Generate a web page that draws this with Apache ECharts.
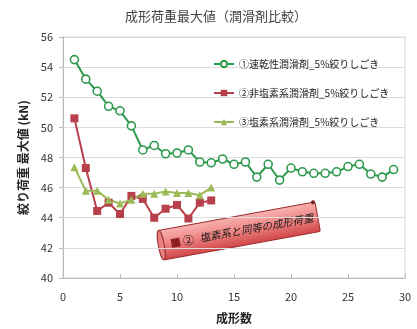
<!DOCTYPE html>
<html>
<head>
<meta charset="utf-8">
<script src="https://cdn.jsdelivr.net/npm/echarts@6/dist/echarts.min.js"></script>
<style>
  html, body { margin: 0; padding: 0; background: #fff; }
  #main { width: 417px; height: 329px; }
</style>
</head>
<body>
<div id="main"></div>
<script>
var myChart = echarts.init(document.getElementById('main'));

// データ
var seriesNames = ['①速乾性潤滑剤_5%絞りしごき', '②非塩素系潤滑剤_5%絞りしごき', '③塩素系潤滑剤_5%絞りしごき'];
var quickDry = [54.5, 53.2, 52.4, 51.4, 51.1, 50.1, 48.5, 48.8, 48.25, 48.3, 48.5, 47.7, 47.65, 47.9, 47.55,
    47.7, 46.7, 47.55, 46.5, 47.3, 47.05, 46.95, 46.95, 47.05, 47.4, 47.55, 46.9, 46.7, 47.2];
var nonChlorine = [50.6, 47.3, 44.45, 45.0, 44.25, 45.45, 45.25, 44.0, 44.6, 44.85, 43.95, 45.0, 45.15];
var chlorine = [47.35, 45.8, 45.8, 45.2, 44.95, 45.2, 45.6, 45.6, 45.75, 45.65, 45.65, 45.5, 46.0];

function toPairs(arr) {
    var s = [];
    for (var i = 0; i < arr.length; i++) {
        s.push([i + 1, arr[i]]);
    }
    return s;
}

var font = '"Noto Sans CJK JP", sans-serif';

option = {
    backgroundColor: '#fff',
    animation: false,
    title: {
        text: '成形荷重最大値（潤滑剤比較）',
        left: 120,
        top: 5,
        textStyle: { fontFamily: font, fontSize: 13, fontWeight: 'normal', color: '#444' }
    },
    grid: {
        left: 63, right: 12, top: 37, bottom: 51,
        show: true, borderColor: '#d6d6d6', borderWidth: 1
    },
    legend: {
        orient: 'vertical',
        left: 208,
        top: 52,
        itemGap: 15,
        itemWidth: 20,
        itemHeight: 8,
        textStyle: { fontFamily: font, fontSize: 10, color: '#222', lineHeight: 14 },
        data: seriesNames
    },
    xAxis: {
        type: 'value',
        min: 0, max: 30, interval: 5,
        name: '成形数',
        nameLocation: 'middle',
        nameGap: 34,
        nameTextStyle: { fontFamily: font, fontSize: 12, fontWeight: 'bold', color: '#222' },
        axisLine: { lineStyle: { color: '#bbb' } },
        axisTick: { inside: true, length: 4, lineStyle: { color: '#bbb' } },
        axisLabel: { fontFamily: font, fontSize: 11, color: '#333', margin: 13 },
        splitLine: { show: false }
    },
    yAxis: {
        type: 'value',
        min: 40, max: 56, interval: 2,
        name: '絞り荷重 最大値 (kN)',
        nameLocation: 'middle',
        nameGap: 30,
        nameTextStyle: { fontFamily: font, fontSize: 12, fontWeight: 'bold', color: '#222' },
        axisLine: { show: true, lineStyle: { color: '#bbb' } },
        axisTick: { show: true, length: 4, lineStyle: { color: '#bbb' } },
        axisLabel: { fontFamily: font, fontSize: 11, color: '#333', margin: 10 },
        splitLine: { lineStyle: { color: '#dcdcdc' } }
    },
    series: [
        {
            name: seriesNames[0], type: 'line', data: toPairs(quickDry),
            symbol: 'circle', symbolSize: 8,
            lineStyle: { color: '#2e9a4e', width: 2 },
            itemStyle: { color: '#fff', borderColor: '#2e9a4e', borderWidth: 1.6 }
        },
        {
            name: seriesNames[1], type: 'line', data: toPairs(nonChlorine),
            symbol: 'rect', symbolSize: 8,
            lineStyle: { color: '#b8404a', width: 2 },
            itemStyle: { color: '#b8404a' }
        },
        {
            name: seriesNames[2], type: 'line', data: toPairs(chlorine),
            symbol: 'triangle', symbolSize: 8,
            lineStyle: { color: '#9bbb59', width: 2 },
            itemStyle: { color: '#9bbb59' }
        }
    ],
    graphic: [
        {
            type: 'group',
            x: 239, y: 231,
            rotation: 0.18,
            children: [
                {
                    type: 'rect',
                    shape: { x: -80, y: -15, width: 160, height: 30, r: 2 },
                    style: {
                        fill: new echarts.graphic.LinearGradient(0, 0, 0, 1, [
                            { offset: 0, color: '#f6b4b2' },
                            { offset: 0.45, color: '#ee8886' },
                            { offset: 1, color: '#d04446' }
                        ]),
                        stroke: '#9c2c2e', lineWidth: 1
                    }
                },
                {
                    type: 'ellipse',
                    shape: { cx: -79, cy: 0, rx: 3, ry: 15 },
                    style: { fill: '#e88080', stroke: '#9c2c2e', lineWidth: 1 }
                },
                {
                    type: 'circle',
                    shape: { cx: 78, cy: -15, r: 2 },
                    style: { fill: '#7a2020' }
                },
                {
                    type: 'text',
                    x: -70, y: 0,
                    style: {
                        text: '■', fontSize: 11, fill: '#8b1f24',
                        verticalAlign: 'middle', fontFamily: font
                    }
                },
                {
                    type: 'text',
                    x: -57, y: 0,
                    style: {
                        text: '②', fontSize: 11, fill: '#1a1a1a',
                        verticalAlign: 'middle', fontFamily: font
                    }
                },
                {
                    type: 'text',
                    x: -40, y: 0,
                    style: {
                        text: '塩素系と同等の成形荷重', fontSize: 10.5, fill: '#1a1a1a',
                        fontStyle: 'italic', verticalAlign: 'middle', fontFamily: font
                    }
                }
            ]
        }
    ]
};
myChart.setOption(option, true);

window.onresize = function () {
    myChart.resize();
}
</script>
</body>
</html>
